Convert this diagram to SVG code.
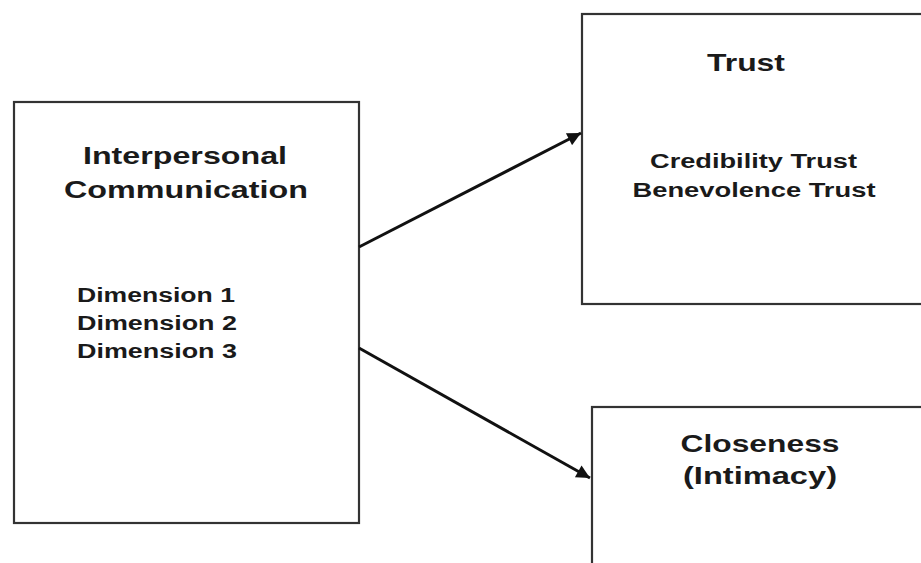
<svg xmlns="http://www.w3.org/2000/svg" width="921" height="563" viewBox="0 0 921 563">
<style>
.box{fill:#fff;stroke:#333;stroke-width:2.2}
.h{font-family:"Liberation Sans",Arial,sans-serif;font-weight:bold;font-size:24px;fill:#1a1a1a}
.s{font-family:"Liberation Sans",Arial,sans-serif;font-weight:bold;font-size:19.5px;fill:#1a1a1a}
.c{text-anchor:middle}
.conn{stroke:#111;stroke-width:3;fill:none}
</style>
<defs>
<marker id="arr" viewBox="0 0 10 10" refX="10" refY="5" markerWidth="5.5" markerHeight="4.5" orient="auto" markerUnits="strokeWidth">
<path d="M0,0 L10,5 L0,10 z" fill="#111"/>
</marker>
</defs>
<rect width="921" height="563" fill="#fff"/>
<g id="node-interpersonal">
<rect class="box" x="14" y="102" width="345" height="421"/>
<text class="h c" x="185" y="164" textLength="204" lengthAdjust="spacingAndGlyphs">Interpersonal</text>
<text class="h c" x="186" y="198" textLength="244" lengthAdjust="spacingAndGlyphs">Communication</text>
<text class="s" x="77" y="302" textLength="158" lengthAdjust="spacingAndGlyphs">Dimension 1</text>
<text class="s" x="77" y="330" textLength="160" lengthAdjust="spacingAndGlyphs">Dimension 2</text>
<text class="s" x="77" y="358" textLength="160" lengthAdjust="spacingAndGlyphs">Dimension 3</text>
</g>
<g id="node-trust">
<rect class="box" x="582" y="14" width="360" height="290"/>
<text class="h c" x="746" y="71" textLength="78" lengthAdjust="spacingAndGlyphs">Trust</text>
<text class="s c" x="753.5" y="168" textLength="207" lengthAdjust="spacingAndGlyphs">Credibility Trust</text>
<text class="s c" x="754" y="197" textLength="243" lengthAdjust="spacingAndGlyphs">Benevolence Trust</text>
</g>
<g id="node-closeness">
<rect class="box" x="592" y="407" width="360" height="180"/>
<text class="h c" x="760" y="452" textLength="159" lengthAdjust="spacingAndGlyphs">Closeness</text>
<text class="h c" x="760" y="484" textLength="154" lengthAdjust="spacingAndGlyphs">(Intimacy)</text>
</g>
<g id="connectors">
<line class="conn" x1="359" y1="247" x2="581" y2="133" marker-end="url(#arr)"/>
<line class="conn" x1="359" y1="348" x2="590" y2="478" marker-end="url(#arr)"/>
</g>
</svg>
